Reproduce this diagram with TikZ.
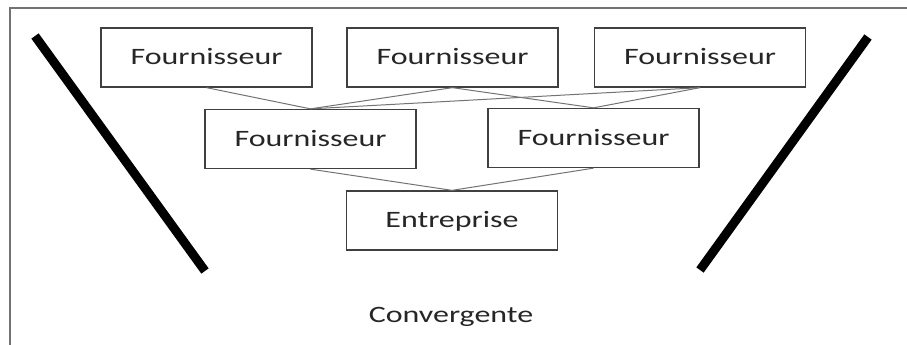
\documentclass[tikz,border=0pt]{standalone}
\usepackage{fontspec}
\setmainfont{Carlito}
\usepackage{graphicx}
\newcommand{\stretchtxt}[1]{\scalebox{1.36}[1]{#1}}

\begin{document}
\begin{tikzpicture}[x=1pt,y=-1pt,
    boite/.style={draw=black!75, line width=1.3pt, minimum width=211pt, minimum height=59pt,
        inner sep=0pt, text height=14pt, text depth=0pt,
        font=\fontsize{23.5}{28}\selectfont, text=black!85},
    lien/.style={draw=black!55, line width=1pt}]
    \useasboundingbox (0,0) rectangle (907,345);

    % Frame (cut off on the right and at the bottom)
    \draw[black!55, line width=2pt] (10,345) -- (10,8) -- (907,8);

    % Funnel sides
    \draw[line width=9pt] (35,36) -- (205,271);
    \draw[line width=9pt] (868,37) -- (700,270);

    % Suppliers, first tier
    \node[boite] (f1) at (206.5,57.5) {\stretchtxt{Fournisseur}};
    \node[boite] (f2) at (452.5,57.5) {\stretchtxt{Fournisseur}};
    \node[boite] (f3) at (700,57.5) {\stretchtxt{Fournisseur}};

    % Suppliers, second tier
    \node[boite] (f4) at (310.5,139) {\stretchtxt{Fournisseur}};
    \node[boite] (f5) at (593.5,138) {\stretchtxt{Fournisseur}};

    % Company
    \node[boite] (ent) at (452,220.5) {\stretchtxt{Entreprise}};

    % Links
    \foreach \a/\b in {f1/f4, f2/f4, f2/f5, f3/f4, f3/f5, f4/ent, f5/ent}
        \draw[lien] (\a.south) -- (\b.north);

    % Caption
    \node[font=\fontsize{23.5}{28}\selectfont, text=black!85, anchor=base] (conv) at (451,322) {\stretchtxt{Convergente}};
\end{tikzpicture}
\end{document}
